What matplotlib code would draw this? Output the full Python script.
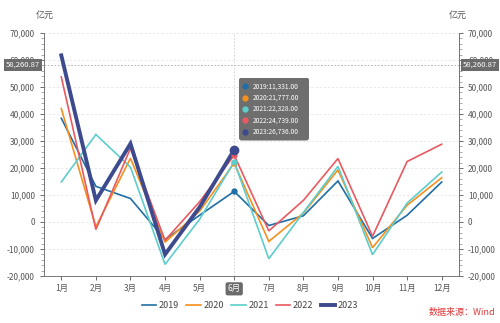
import matplotlib
matplotlib.use("Agg")
import matplotlib.pyplot as plt
from matplotlib.ticker import MultipleLocator, FuncFormatter
from matplotlib.patches import FancyBboxPatch
import numpy as np

plt.rcParams["font.family"] = ["Noto Sans CJK SC", "DejaVu Sans"]

months = ["1月", "2月", "3月", "4月", "5月", "6月", "7月", "8月", "9月", "10月", "11月", "12月"]
years = ["2019", "2020", "2021", "2022", "2023"]
v2019 = [38400, 13200, 8700, -6500, 2500, 11331, -1300, 2300, 15200, -6100, 2500, 14800]
v2020 = [42000, -1800, 23600, -7500, 4000, 21777, -7200, 3300, 19300, -9500, 6200, 16400]
v2021 = [14800, 32400, 20300, -15700, 1000, 22328, -13600, 3500, 20600, -12100, 7000, 18500]
v2022 = [53700, -2800, 27300, -6800, 7500, 24739, -3300, 8000, 23500, -5300, 22400, 28800]
v2023 = [61700, 8000, 29000, -12000, 5500, 26736]
series = [v2019, v2020, v2021, v2022, v2023]
colors = ["#1f6ea6", "#f5901e", "#5dcdcb", "#e9595f", "#3d4b8e"]
widths = [1.2, 1.2, 1.2, 1.2, 2.8]
pointer_value = 58260.87
hover_idx = 5

fig = plt.figure(figsize=(5, 3.23), dpi=100)
ax = fig.add_axes([0.088, 0.1455, 0.83, 0.7525])
x = np.arange(len(months))

ax.set_xlim(-0.5, 11.5)
ax.set_ylim(-20000, 70000)

for y in range(-10000, 70001, 10000):
    ax.axhline(y, color="#e6e6e6", lw=0.6, ls=(0, (3, 2)), zorder=0)

for vals, c, w, name in zip(series, colors, widths, years):
    ax.plot(x[:len(vals)], vals, color=c, lw=w, label=name, zorder=3 if name != "2023" else 4,
            solid_joinstyle="miter")
    ms = 6 if name == "2023" else 3.5
    ax.plot(x[hover_idx], vals[hover_idx], "o", color=c, ms=ms, zorder=5)

# axis pointer
ax.axhline(pointer_value, color="#aaaaaa", lw=0.6, ls=(0, (2, 2)), zorder=1)
ax.axvline(hover_idx, color="#cccccc", lw=0.6, ls=(0, (2, 2)), zorder=1)

ax.set_xticks(x)
ax.set_xticklabels(months)
ax.yaxis.set_major_locator(MultipleLocator(10000))
ax.yaxis.set_minor_locator(MultipleLocator(2000))
fmt = FuncFormatter(lambda v, p: f"{int(v):,}")
ax.yaxis.set_major_formatter(fmt)
ax.tick_params(axis="both", labelsize=6, colors="#555555", length=3, width=0.6)
ax.tick_params(axis="y", which="minor", length=2, width=0.5, colors="#888888")
ax.tick_params(axis="x", length=3, pad=3)
ax.spines["top"].set_visible(False)
for s in ["left", "right", "bottom"]:
    ax.spines[s].set_color("#777777")
    ax.spines[s].set_linewidth(0.7)

ax2 = ax.twinx()
ax2.set_ylim(-20000, 70000)
ax2.yaxis.set_major_locator(MultipleLocator(10000))
ax2.yaxis.set_minor_locator(MultipleLocator(2000))
ax2.yaxis.set_major_formatter(fmt)
ax2.tick_params(axis="y", labelsize=6, colors="#555555", length=3, width=0.6)
ax2.tick_params(axis="y", which="minor", length=2, width=0.5, colors="#888888")
for s in ["top", "left", "bottom"]:
    ax2.spines[s].set_visible(False)
ax2.spines["right"].set_color("#777777")
ax2.spines["right"].set_linewidth(0.7)

# highlighted x label
lbl = ax.get_xticklabels()[hover_idx]
lbl.set_color("white")
lbl.set_bbox(dict(boxstyle="round,pad=0.25", fc="#6b6b6b", ec="none"))

# pointer value labels
box = dict(boxstyle="square,pad=0.25", fc="#6b6b6b", ec="none")
ax2.text(-0.01, pointer_value, f"{pointer_value:,.2f}", transform=ax2.get_yaxis_transform(),
         ha="right", va="center", fontsize=5.5, color="white", bbox=box, zorder=10)
ax2.text(1.01, pointer_value, f"{pointer_value:,.2f}", transform=ax2.get_yaxis_transform(),
         ha="left", va="center", fontsize=5.5, color="white", bbox=box, zorder=10)

# unit labels
fig.text(0.09, 0.945, "亿元", fontsize=6.5, color="#555555", ha="center")
fig.text(0.915, 0.945, "亿元", fontsize=6.5, color="#555555", ha="center")

# tooltip
tip_ax = fig.add_axes([0.478, 0.565, 0.14, 0.195])
tip_ax.set_xlim(0, 1)
tip_ax.set_ylim(0, 1)
tip_ax.axis("off")
tip_ax.add_patch(FancyBboxPatch((0, 0), 1, 1, boxstyle="round,pad=0,rounding_size=0.04",
                                fc="#666666", ec="none", alpha=0.95))
for i, (vals, c, name) in enumerate(zip(series, colors, years)):
    yy = 0.86 - i * 0.18
    tip_ax.plot(0.09, yy, "o", color=c, ms=3.5)
    tip_ax.text(0.19, yy, f"{name}:{vals[hover_idx]:,.2f}", fontsize=4.8, color="white",
                va="center", ha="left")

leg = fig.legend(*ax.get_legend_handles_labels(), loc="center", bbox_to_anchor=(0.5, 0.054),
                 ncol=5, frameon=False, fontsize=6.5, handlelength=1.6, columnspacing=0.8,
                 handletextpad=0.3)
for t in leg.get_texts():
    t.set_color("#444444")

fig.text(0.99, 0.02, "数据来源：Wind", fontsize=6.5, color="#e03a3a", ha="right", va="bottom")

fig.savefig("out.png", dpi=100)
